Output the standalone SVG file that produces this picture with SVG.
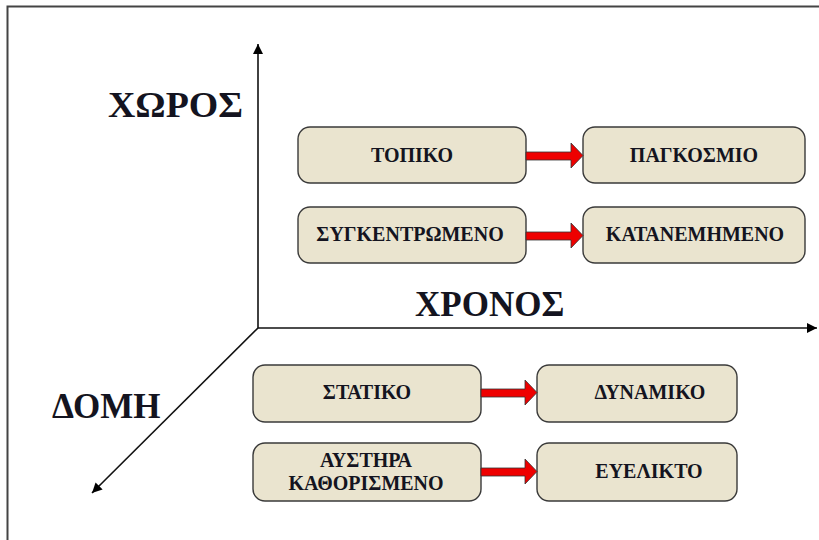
<svg xmlns="http://www.w3.org/2000/svg" width="819" height="540" viewBox="0 0 819 540">
  <defs>
    <marker id="axisHead" viewBox="0 0 10 10" refX="10" refY="5" markerWidth="10" markerHeight="10" markerUnits="userSpaceOnUse" orient="auto">
      <path d="M0,0 L10,5 L0,10 Z" fill="#000"/>
    </marker>
    <style>
      .frame { fill: none; stroke: #444; stroke-width: 2; }
      .axis { fill: none; stroke: #111; stroke-width: 1.6; }
      .box { fill: #EAE4CF; stroke: #3a3a3a; stroke-width: 1.4; }
      .label { font-family: "Liberation Serif", "Times New Roman", "DejaVu Serif", serif; font-weight: bold; font-size: 20px; fill: #141420; text-anchor: middle; }
      .axisLabel { font-family: "Liberation Serif", "Times New Roman", "DejaVu Serif", serif; font-weight: bold; font-size: 35px; fill: #141420; }
      .flow { fill: #EE0000; stroke: #333; stroke-width: 0.8; }
    </style>
  </defs>

  <rect width="819" height="540" fill="#fff"/>
  <!-- outer frame: top and left edges only -->
  <path class="frame" d="M7.5,540 L7.5,6.5 L819,6.5"/>

  <!-- three axes meeting at the origin -->
  <g id="axes">
    <line class="axis" x1="258" y1="328" x2="258" y2="44" marker-end="url(#axisHead)"/>
    <line class="axis" x1="258" y1="328" x2="817" y2="328" marker-end="url(#axisHead)"/>
    <line class="axis" x1="258" y1="328" x2="92" y2="493" marker-end="url(#axisHead)"/>
  </g>

  <text id="label-space" class="axisLabel" x="108" y="117" textLength="135" lengthAdjust="spacingAndGlyphs">ΧΩΡΟΣ</text>
  <text id="label-time" class="axisLabel" x="415" y="316">ΧΡΟΝΟΣ</text>
  <text id="label-structure" class="axisLabel" x="52" y="418">ΔΟΜΗ</text>

  <g id="n-local">
    <rect class="box" x="298" y="127" width="228" height="56" rx="12"/>
    <text class="label" x="412" y="162">ΤΟΠΙΚΟ</text>
  </g>
  <g id="n-global">
    <rect class="box" x="583" y="127" width="222" height="56" rx="12"/>
    <text class="label" x="694" y="162">ΠΑΓΚΟΣΜΙΟ</text>
  </g>
  <g id="n-centralized">
    <rect class="box" x="298" y="207" width="228" height="56" rx="12"/>
    <text class="label" x="410" y="241">ΣΥΓΚΕΝΤΡΩΜΕΝΟ</text>
  </g>
  <g id="n-distributed">
    <rect class="box" x="583" y="207" width="222" height="56" rx="12"/>
    <text class="label" x="695" y="241">ΚΑΤΑΝΕΜΗΜΕΝΟ</text>
  </g>
  <g id="n-static">
    <rect class="box" x="253" y="365" width="228" height="57" rx="12"/>
    <text class="label" x="367" y="399">ΣΤΑΤΙΚΟ</text>
  </g>
  <g id="n-dynamic">
    <rect class="box" x="537" y="365" width="200" height="57" rx="12"/>
    <text class="label" x="650" y="399">ΔΥΝΑΜΙΚΟ</text>
  </g>
  <g id="n-strict">
    <rect class="box" x="253" y="443" width="228" height="58" rx="12"/>
    <text class="label" x="366" y="467">ΑΥΣΤΗΡΑ</text>
    <text class="label" x="366" y="490">ΚΑΘΟΡΙΣΜΕΝΟ</text>
  </g>
  <g id="n-flexible">
    <rect class="box" x="537" y="443" width="200" height="58" rx="12"/>
    <text class="label" x="649" y="478">ΕΥΕΛΙΚΤΟ</text>
  </g>

  <!-- red block arrows between paired nodes -->
  <g id="connectors">
    <path class="flow" d="M526,152 L571,152 L571,143 L583,155.5 L571,168 L571,160 L526,160 Z"/>
    <path class="flow" d="M526,232 L571,232 L571,223 L583,235.5 L571,248 L571,240 L526,240 Z"/>
    <path class="flow" d="M481,389 L525,389 L525,380 L537,392.5 L525,405 L525,397 L481,397 Z"/>
    <path class="flow" d="M481,468 L525,468 L525,459 L537,471.5 L525,484 L525,476 L481,476 Z"/>
  </g>
</svg>
